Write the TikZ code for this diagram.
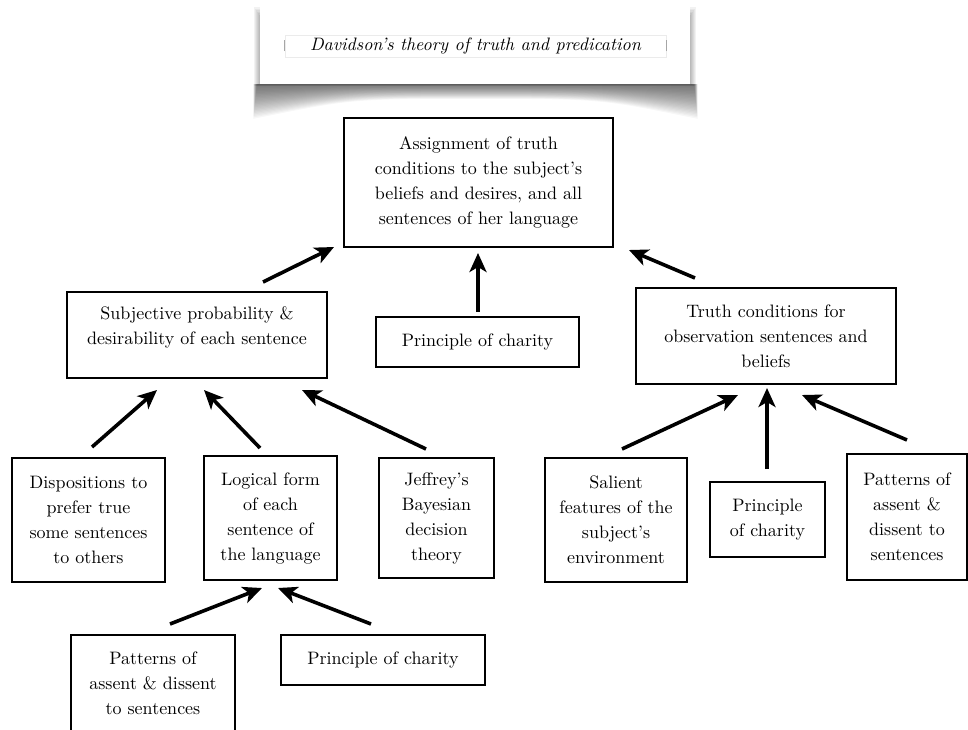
\documentclass[tikz,border=0pt]{standalone}
\usepackage{fontspec}
\setmainfont{lmroman10-regular.otf}[ItalicFont=lmroman10-italic.otf, BoldFont=lmroman10-bold.otf]
\usetikzlibrary{arrows.meta}
\begin{document}
\begin{tikzpicture}[x=1pt,y=-1pt,
  box/.style={draw=black, line width=1.5pt, fill=white, align=center, inner sep=0pt,
    font=\fontsize{18}{25}\selectfont},
  txt/.style={align=center, inner sep=0pt, font=\fontsize{18}{25}\selectfont},
  arr/.style={line width=3.6pt, -{Stealth[length=19pt,width=17pt,inset=5pt]}},
]
\useasboundingbox (0,0) rectangle (968,729);

% ---- title card with curved shadow ----
\foreach \k in {1,...,24} {
  \fill[black, opacity=0.033] ({257-0.15*\k},84) -- ({694+0.15*\k},84) -- ({694+0.15*\k},{84+1.45*\k})
    .. controls (600,{84+0.62*\k}) .. (476,{84+0.62*\k})
    .. controls (352,{84+0.62*\k}) .. ({257-0.15*\k},{84+1.45*\k}) -- cycle;
}
\foreach \k in {1,...,6} {
  \fill[black, opacity=0.05] ({260-\k},{16-1.5*\k}) rectangle ({690+\k},{84+0.4*\k});
}
\fill[white] (260,-5) rectangle (690,84);
\node[draw=black!8, line width=0.6pt, minimum width=381pt, minimum height=22pt, inner sep=0pt,
  font=\fontsize{18}{25}\selectfont\itshape] (title) at (475.5,46)
  {Davidson's theory of truth and predication};
\draw[black!35, line width=0.8pt] ([yshift=-5pt]title.west) -- ([yshift=6pt]title.west);
\draw[black!35, line width=0.8pt] ([yshift=-5pt]title.east) -- ([yshift=6pt]title.east);

% ---- boxes ----
\node[box, minimum width=269pt, minimum height=129pt] (top) at (478.5,182.5)
  {Assignment of truth\\conditions to the subject's\\beliefs and desires, and all\\sentences of her language};
\node[box, minimum width=260pt, minimum height=86pt] (subj) at (197,335) {};
\node[txt] (subjt) at (197,327) {Subjective probability \&\\desirability of each sentence};
\node[box, minimum width=203pt, minimum height=50pt] (pc1) at (477.5,342) {Principle of charity};
\node[box, minimum width=260pt, minimum height=96pt] (truth) at (766,336)
  {Truth conditions for\\observation sentences and\\beliefs};

\node[box, minimum width=153pt, minimum height=124pt] (disp) at (88.5,520)
  {Dispositions to\\prefer true\\some sentences\\to others};
\node[box, minimum width=133pt, minimum height=124pt] (logic) at (270.5,518)
  {Logical form\\of each\\sentence of\\the language};
\node[box, minimum width=115pt, minimum height=120pt] (jeff) at (436.5,518)
  {Jeffrey's\\Bayesian\\decision\\theory};
\node[box, minimum width=142pt, minimum height=124pt] (sal) at (616,520)
  {Salient\\features of the\\subject's\\environment};
\node[box, minimum width=115pt, minimum height=75pt] (pc2) at (767.5,519.5)
  {Principle\\of charity};
\node[box, minimum width=120pt, minimum height=126pt] (patr) at (907,517)
  {Patterns of\\assent \&\\dissent to\\sentences};
\node[box, minimum width=164pt, minimum height=96pt] (patl) at (153,683)
  {Patterns of\\assent \& dissent\\to sentences};
\node[box, minimum width=204pt, minimum height=50pt] (pc3) at (383,660) {Principle of charity};

% ---- arrow end points ----
\coordinate (a1s) at (263,282);  \coordinate (a1e) at (334,247);
\coordinate (a2s) at (478,312);  \coordinate (a2e) at (478,253);
\coordinate (a3s) at (695,278);  \coordinate (a3e) at (629,250);
\coordinate (a4s) at (92,447);   \coordinate (a4e) at (157,390);
\coordinate (a5s) at (260,448);  \coordinate (a5e) at (204,390);
\coordinate (a6s) at (426,449);  \coordinate (a6e) at (302,390);
\coordinate (a7s) at (622,449);  \coordinate (a7e) at (738,395);
\coordinate (a8s) at (767,469);  \coordinate (a8e) at (767,388);
\coordinate (a9s) at (907,440);  \coordinate (a9e) at (802,395);
\coordinate (a10s) at (170,624); \coordinate (a10e) at (262,588);
\coordinate (a11s) at (371,624); \coordinate (a11e) at (278,588);

\foreach \i in {1,...,11} { \draw[arr] (a\i s) -- (a\i e); }
\end{tikzpicture}
\end{document}
